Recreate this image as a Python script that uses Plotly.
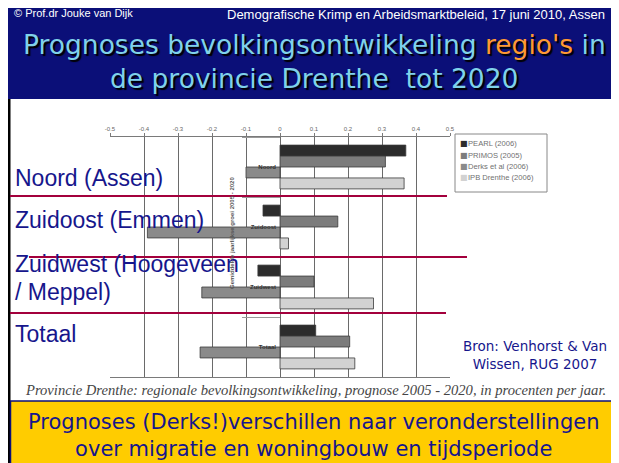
import plotly.graph_objects as go

W, H = 619, 463
OFF = 8  # page body margin in the browser

# ---------------- data ----------------
regions = ["Noord", "Zuidoost", "Zuidwest", "Totaal"]
series_names = ["PEARL (2006)", "PRIMOS (2005)", "Derks et al (2006)", "IPB Drenthe (2006)"]
pearl = [0.37, -0.05, -0.065, 0.105]
primos = [0.31, 0.17, 0.10, 0.205]
derks = [-0.10, -0.39, -0.23, -0.235]
ipb = [0.365, 0.025, 0.275, 0.22]
series_values = [pearl, primos, derks, ipb]
tick_vals = [-0.5, -0.4, -0.3, -0.2, -0.1, 0, 0.1, 0.2, 0.3, 0.4, 0.5]
tick_text = ["-0.5", "-0.4", "-0.3", "-0.2", "-0.1", "0", "0.1", "0.2", "0.3", "0.4", "0.5"]
overlay_labels = ["Noord (Assen)", "Zuidoost (Emmen)", "Zuidwest (Hoogeveen", "/ Meppel)", "Totaal"]

# ---------------- styles ----------------
bar_colors = ["#2c2c2c", "#7c7c7c", "#8a8a8a", "#d2d2d2"]
NAVY = "#0b0f78"
TEXT_BLUE = "#16168c"
RED = "#a3003c"


def fx(p):
    return (p - OFF) / W


def fy(p):
    return 1 - (p - OFF) / H


def ann(**kw):
    d = dict(xref="paper", yref="paper", showarrow=False)
    d.update(kw)
    return d


fig = go.Figure()
for name, vals, col in zip(series_names, series_values, bar_colors):
    fig.add_trace(go.Bar(
        y=regions, x=vals, orientation="h", name=name,
        marker=dict(color=col, line=dict(color="#3a3a3a", width=0.8)),
        showlegend=False,
    ))

shapes = []
annotations = []

# header background
shapes.append(dict(type="rect", xref="paper", yref="paper", x0=fx(7), x1=fx(616), y0=fy(99), y1=fy(0),
                   fillcolor=NAVY, line=dict(width=0), layer="below"))
# black borders
shapes.append(dict(type="rect", xref="paper", yref="paper", x0=fx(7.5), x1=fx(10.5), y0=fy(470), y1=fy(99),
                   fillcolor="black", line=dict(width=0), layer="above"))
shapes.append(dict(type="rect", xref="paper", yref="paper", x0=fx(615.5), x1=fx(625), y0=fy(470), y1=fy(0),
                   fillcolor="black", line=dict(width=0), layer="above"))
# yellow box
shapes.append(dict(type="rect", xref="paper", yref="paper", x0=fx(10.5), x1=fx(615), y0=fy(470), y1=fy(401),
                   fillcolor="#ffcc00", line=dict(color="#0b0f78", width=1.5), layer="above"))
# legend box
shapes.append(dict(type="rect", xref="paper", yref="paper", x0=fx(455), x1=fx(547), y0=fy(192), y1=fy(134),
                   fillcolor="white", line=dict(color="#888888", width=1), layer="above"))
# red separator lines
for x0, x1, y in [(10, 447, 196), (29, 467, 257), (10, 446, 313)]:
    shapes.append(dict(type="line", xref="paper", yref="paper", x0=fx(x0), x1=fx(x1), y0=fy(y), y1=fy(y),
                       line=dict(color=RED, width=2.2), layer="above"))

# header texts
annotations.append(ann(text="© Prof.dr Jouke van Dijk", x=fx(12), y=fy(13), xanchor="left", yanchor="middle",
                       font=dict(family="Liberation Sans, Arial", size=11, color="white")))
annotations.append(ann(text="Demografische Krimp en Arbeidsmarktbeleid, 17 juni 2010, Assen", x=fx(607), y=fy(14.5),
                       xanchor="right", yanchor="middle",
                       font=dict(family="Liberation Sans, Arial", size=13, color="white")))
annotations.append(ann(text="Prognoses bevolkingsontwikkeling <span style='color:#ff9933'>regio's</span> in",
                       x=fx(314), y=fy(44), xanchor="center", yanchor="middle",
                       font=dict(family="DejaVu Sans", size=26.5, color="#80d2ea",
                                 shadow="2px 2px 1px #000000")))
annotations.append(ann(text="de provincie Drenthe&nbsp; tot 2020",
                       x=fx(314), y=fy(78), xanchor="center", yanchor="middle",
                       font=dict(family="DejaVu Sans", size=26.5, color="#80d2ea",
                                 shadow="2px 2px 1px #000000")))

# legend entries
for i, (name, col) in enumerate(zip(series_names, bar_colors)):
    yy = 144 + i * 11.3
    annotations.append(ann(text="■", x=fx(458), y=fy(yy), xanchor="left", yanchor="middle",
                           font=dict(family="DejaVu Sans", size=8, color=col)))
    annotations.append(ann(text=name, x=fx(465.5), y=fy(yy), xanchor="left", yanchor="middle",
                           font=dict(family="Liberation Sans, Arial", size=7.6, color="#707070")))

# rotated axis title
annotations.append(ann(text="Gemiddelde jaarlijkse groei 2005 - 2020", x=fx(232), y=fy(233), textangle=-90,
                       xanchor="center", yanchor="middle",
                       font=dict(family="Liberation Sans, Arial", size=6, color="#555555", weight="bold")))

# big overlay labels
for txt, yc in zip(overlay_labels, [178, 220, 264, 292, 334]):
    annotations.append(ann(text=txt, x=fx(13), y=fy(yc), xanchor="left", yanchor="middle",
                           font=dict(family="Liberation Sans, Arial", size=23, color=TEXT_BLUE)))

# source text
annotations.append(ann(text="Bron: Venhorst & Van<br>Wissen, RUG 2007", x=fx(535), y=fy(355), xanchor="center",
                       yanchor="middle", align="center",
                       font=dict(family="DejaVu Sans", size=13.5, color=TEXT_BLUE)))

# caption
annotations.append(ann(text="<i>Provincie Drenthe: regionale bevolkingsontwikkeling, prognose 2005 - 2020, in procenten per jaar.</i>",
                       x=fx(315), y=fy(390), xanchor="center", yanchor="middle",
                       font=dict(family="Liberation Serif, Times New Roman", size=14.6, color="#454545")))

# yellow box text
annotations.append(ann(text="Prognoses (Derks!)verschillen naar veronderstellingen<br>over migratie en woningbouw en tijdsperiode",
                       x=fx(313), y=fy(435), xanchor="center", yanchor="middle", align="center",
                       font=dict(family="DejaVu Sans", size=21, color=TEXT_BLUE)))

fig.update_layout(
    width=W, height=H,
    margin=dict(l=0, r=0, t=0, b=0, pad=0, autoexpand=False),
    paper_bgcolor="white", plot_bgcolor="white",
    barmode="group", bargap=0.27, bargroupgap=0,
    shapes=shapes, annotations=annotations,
    xaxis=dict(domain=[fx(110), fx(450)], range=[-0.5, 0.5], side="top",
               tickvals=tick_vals, ticktext=tick_text, automargin=False,
               tickfont=dict(family="Liberation Sans, Arial", size=6, color="#666666"),
               showgrid=True, gridcolor="#6a6a6a", gridwidth=1, zeroline=False,
               showline=True, linecolor="#7a7a7a", linewidth=1, mirror=True,
               ticks="outside", ticklen=3, tickcolor="#7a7a7a"),
    yaxis=dict(domain=[fy(377), fy(137)], autorange="reversed", type="category",
               anchor="free", position=fx(280), automargin=False,
               tickson="boundaries", ticks="outside", ticklen=38, tickcolor="#999999",
               ticklabelstandoff=4,
               tickfont=dict(family="Liberation Sans, Arial", size=6, color="#333333", weight="bold"),
               showgrid=False, showline=False, zeroline=False),
)

fig.write_html("out.html")
